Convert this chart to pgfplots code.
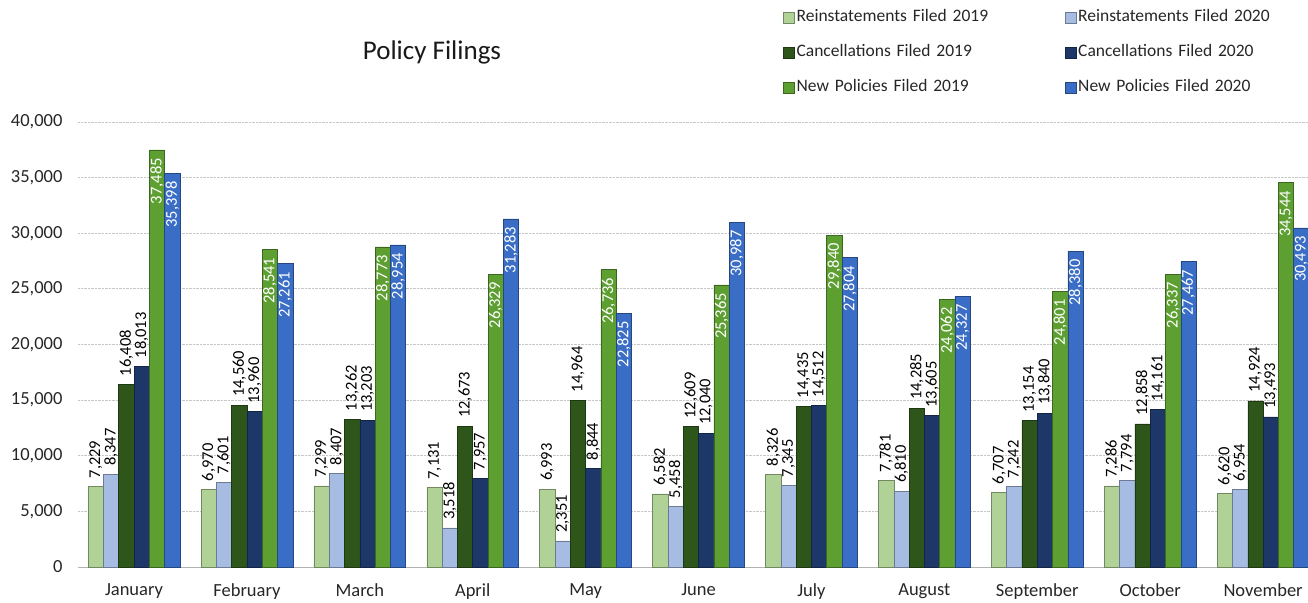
\documentclass[border=0pt]{standalone}
\usepackage{pgfplots}
\pgfplotsset{compat=1.18}
\usepackage{fontspec}
\setmainfont{Carlito}
\definecolor{rA}{HTML}{B0D296}
\definecolor{rB}{HTML}{A6BCE2}
\definecolor{cA}{HTML}{2E561B}
\definecolor{cB}{HTML}{1D3868}
\definecolor{nA}{HTML}{5E9F32}
\definecolor{nB}{HTML}{3A6EC6}
\pgfplotstableread{
x rA rB cA cB nA nB
0 7229 8347 16408 18013 37485 35398
1 6970 7601 14560 13960 28541 27261
2 7299 8407 13262 13203 28773 28954
3 7131 3518 12673 7957 26329 31283
4 6993 2351 14964 8844 26736 22825
5 6582 5458 12609 12040 25365 30987
6 8326 7345 14435 14512 29840 27804
7 7781 6810 14285 13605 24062 24327
8 6707 7242 13154 13840 24801 28380
9 7286 7794 12858 14161 26337 27467
10 6620 6954 14924 13493 34544 30493
}\datatable
\begin{document}
\begin{tikzpicture}
\begin{axis}[
  at={(78pt,35pt)}, anchor=south west,
  scale only axis, width=1230pt, height=445pt,
  xmin=-0.496, xmax=10.398, ymin=0, ymax=40000,
  enlargelimits=false, clip=false,
  ybar=0pt, bar width=15.3pt,
  xtick={0,...,10},
  xticklabels={January,February,March,April,May,June,July,August,September,October,November},
  ytick={0,5000,...,40000},
  scaled y ticks=false,
  /pgf/number format/.cd, 1000 sep={,}, assume math mode=true, /pgfplots/.cd,
  ymajorgrids, grid style={densely dotted, color=black!22, line width=0.8pt},
  axis lines=left, axis line style={-},
  y axis line style={draw=none},
  x axis line style={draw=black!30, line width=0.8pt},
  major tick length=0pt, tick style={draw=none},
  ticklabel style={font=\fontsize{18.5}{20}\selectfont, text=black!85},
  yticklabel style={xshift=-12pt},
  xticklabel style={yshift=-13pt},
  legend columns=2,
  legend style={draw=none, fill=none, inner sep=0pt, anchor=north west,
    at={(axis description cs:0.573,1.253)},
    font=\fontsize{17.5}{19}\selectfont, text=black!85,
    nodes={text height=12pt, text depth=4pt, inner ysep=0pt, inner xsep=2pt, text width=266pt, align=left},
    row sep=19pt, column sep=0pt},
  legend image code/.code={\draw[#1, line width=0.6pt] (0pt,-6pt) rectangle (11pt,5pt);},
  nodes near coords,
  every node near coord/.append style={font=\fontsize{16.5}{18}\selectfont, rotate=90, inner ysep=2pt, inner xsep=8pt},
]
\addplot[fill=rA, draw=rA!65!black, line width=0.5pt,
  nodes near coords style={anchor=west, text=black}] table[x=x,y=rA]{\datatable};
\addplot[fill=rB, draw=rB!65!black, line width=0.5pt,
  nodes near coords style={anchor=west, text=black}] table[x=x,y=rB]{\datatable};
\addplot[fill=cA, draw=cA!65!black, line width=0.5pt,
  nodes near coords style={anchor=west, text=black}] table[x=x,y=cA]{\datatable};
\addplot[fill=cB, draw=cB!65!black, line width=0.5pt,
  nodes near coords style={anchor=west, text=black}] table[x=x,y=cB]{\datatable};
\addplot[fill=nA, draw=nA!65!black, line width=0.5pt,
  nodes near coords style={anchor=east, text=white}] table[x=x,y=nA]{\datatable};
\addplot[fill=nB, draw=nB!65!black, line width=0.5pt,
  nodes near coords style={anchor=east, text=white}] table[x=x,y=nB]{\datatable};
\legend{Reinstatements Filed 2019, Reinstatements Filed 2020, Cancellations Filed 2019, Cancellations Filed 2020, New Policies Filed 2019, New Policies Filed 2020}
\end{axis}
\node[font=\fontsize{27}{30}\selectfont, text=black!90] at (432pt,550pt) {Policy Filings};
\pgfresetboundingbox
\useasboundingbox (0,0) rectangle (1308pt,602pt);
\end{tikzpicture}
\end{document}
